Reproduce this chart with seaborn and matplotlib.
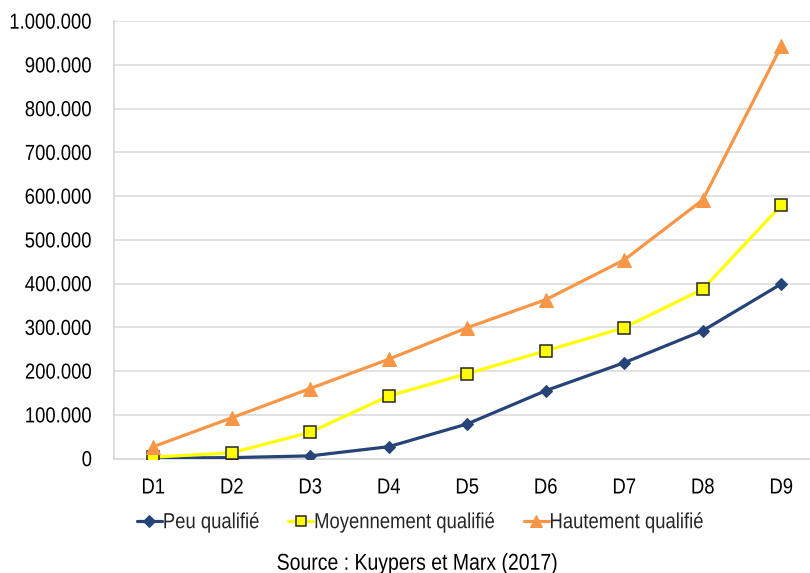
import matplotlib
matplotlib.use("Agg")
import matplotlib.pyplot as plt
from matplotlib.ticker import FuncFormatter
from matplotlib.patheffects import AbstractPathEffect
from matplotlib.transforms import Affine2D
import seaborn as sns
import pandas as pd

deciles = ["D1", "D2", "D3", "D4", "D5", "D6", "D7", "D8", "D9"]
peu_qualifie = [1000, 2000, 6000, 27000, 79000, 155000, 219000, 292000, 399000]
moyennement_qualifie = [3000, 13000, 60000, 143000, 194000, 246000, 299000, 387000, 579000]
hautement_qualifie = [27000, 93000, 160000, 227000, 299000, 363000, 454000, 591000, 942000]
series_names = ["Peu qualifié", "Moyennement qualifié", "Hautement qualifié"]
source_text = "Source : Kuypers et Marx (2017)"


class TallText(AbstractPathEffect):
    """Draw glyphs stretched vertically about mid cap height (narrow-font look)."""

    def __init__(self, sy=1.18, mid=35.0):
        super().__init__()
        self.sy = sy
        self.mid = mid

    def draw_path(self, renderer, gc, tpath, affine, rgbFace=None):
        stretch = Affine2D().translate(0, -self.mid).scale(1, self.sy).translate(0, self.mid)
        renderer.draw_path(gc, tpath, stretch + affine, rgbFace)


sns.set_theme(style="white")
plt.rcParams["font.family"] = ["Liberation Sans", "DejaVu Sans"]
FS = 13.3
tall = [TallText()]

fig = plt.figure(figsize=(8.1, 5.73), dpi=100)
ax = fig.add_axes([114 / 810, 1 - 458.5 / 573, (820.5 - 114) / 810, (458.5 - 21) / 573])

styles = [
    dict(color="#264478", marker="D", markersize=6.5, markeredgecolor="#264478",
         markerfacecolor="#264478"),
    dict(color="#FFFF00", marker="s", markersize=8, markeredgecolor="#262626",
         markerfacecolor="#FFFF00", markeredgewidth=1.1),
    dict(color="#F79646", marker="^", markersize=9.5, markeredgecolor="#F79646",
         markerfacecolor="#F79646"),
]
values = [peu_qualifie, moyennement_qualifie, hautement_qualifie]

for name, vals, st in zip(series_names, values, styles):
    df = pd.DataFrame({"decile": deciles, "valeur": vals})
    sns.lineplot(data=df, x="decile", y="valeur", ax=ax, label=name,
                 linewidth=2.3, sort=False, zorder=3, **st)

ax.set_xlim(-0.5, 8.5)
ax.set_ylim(0, 1_000_000)
ax.set_yticks(range(0, 1_000_001, 100_000))
ax.yaxis.set_major_formatter(FuncFormatter(lambda v, _: f"{int(v):,}".replace(",", ".")))
ax.set_xlabel("")
ax.set_ylabel("")

ax.grid(axis="y", color="#D9D9D9", linewidth=1.1, zorder=0)
ax.grid(axis="x", visible=False)
for side in ["top", "right"]:
    ax.spines[side].set_visible(False)
for side in ["left", "bottom"]:
    ax.spines[side].set_color("#D9D9D9")
    ax.spines[side].set_linewidth(1.3)

ax.tick_params(axis="y", length=0, pad=15.8, labelsize=FS, labelcolor="#000000")
ax.tick_params(axis="x", length=0, pad=15, labelsize=FS, labelcolor="#000000")
for lbl in ax.get_yticklabels() + ax.get_xticklabels():
    lbl.set_path_effects(tall)

handles, labels = ax.get_legend_handles_labels()
ax.legend_.remove()
leg = fig.legend(handles, labels, loc="center left", bbox_to_anchor=(137 / 810, 1 - 522.5 / 573),
                 ncol=3, frameon=False, fontsize=FS, handlelength=1.35,
                 handletextpad=0.05, columnspacing=1.57, borderaxespad=0, borderpad=0,
                 markerscale=0.9)
for t in leg.get_texts():
    t.set_path_effects(tall)

fig.text(418 / 810, 1 - 568.5 / 573, source_text, ha="center", va="baseline",
         fontsize=14, color="#000000", path_effects=tall)

fig.savefig("out.png", dpi=100)
